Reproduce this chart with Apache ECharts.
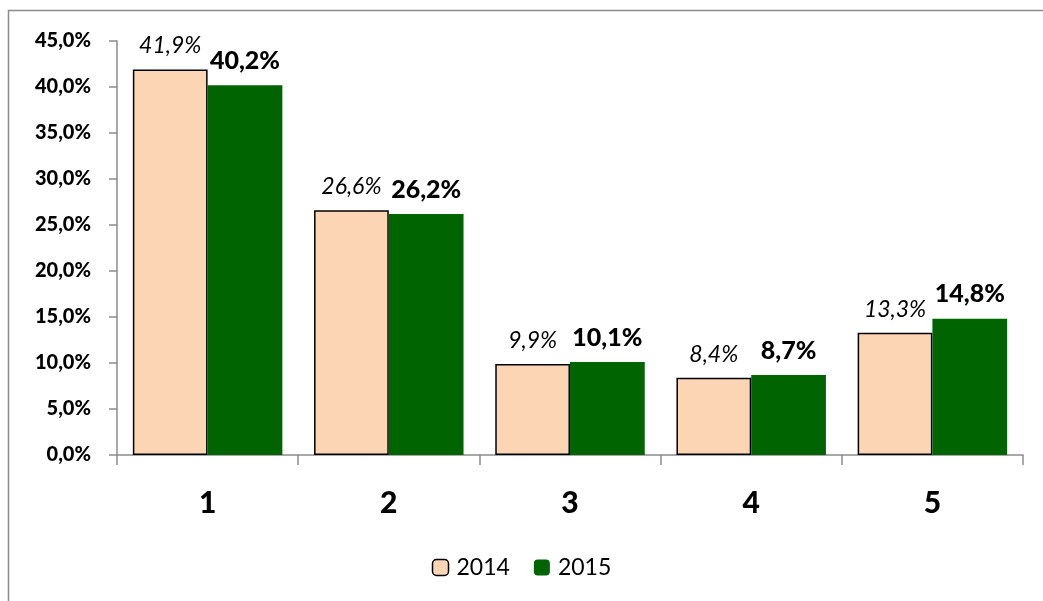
<!DOCTYPE html>
<html><head><meta charset="utf-8">
<script src="https://cdn.jsdelivr.net/npm/echarts@6/dist/echarts.min.js"></script>
<style>html,body{margin:0;padding:0;background:#fff}#c{width:1043px;height:601px}</style>
</head><body><div id="c"></div>
<script>
const categories = ['1','2','3','4','5'];
const values2014 = [41.9, 26.6, 9.9, 8.4, 13.3];
const values2015 = [40.2, 26.2, 10.1, 8.7, 14.8];
const seriesNames = ['2014','2015'];
const FONT = 'Lato, "Open Sans", sans-serif';
const fmt = v => v.toFixed(1).replace('.', ',') + '%';
const chart = echarts.init(document.getElementById('c'));
chart.setOption({
  animation: false,
  graphic: [{type:'rect', shape:{x:8.5,y:10.5,width:1100,height:700}, style:{fill:'none', stroke:'#8c8c8c', lineWidth:1.5}, silent:true, z:-1}],
  grid: {left:117, right:20, top:41, bottom:146},
  legend: {bottom: 17, left: 'center', itemWidth: 16, itemHeight: 16, itemGap: 24,
    textStyle:{fontFamily:FONT, fontSize:23, color:'#000', padding:[0,0,0,3]},
    data:[{name:'2014', itemStyle:{color:'#fcd5b5', borderColor:'#000', borderWidth:1.5}}, {name:'2015', itemStyle:{color:'#006400'}}]},
  xAxis: {type:'category', data:categories,
    axisLine:{lineStyle:{color:'#8c8c8c', width:1.5}},
    axisTick:{show:true, length:10, lineStyle:{color:'#8c8c8c', width:1.5}},
    axisLabel:{fontFamily:FONT, fontSize:30, fontWeight:900, color:'#000', margin:33}},
  yAxis: {type:'value', min:0, max:45, interval:5,
    axisLine:{show:true, lineStyle:{color:'#8c8c8c', width:1.5}},
    axisTick:{show:true, length:8, lineStyle:{color:'#8c8c8c', width:1.5}},
    splitLine:{show:false},
    axisLabel:{fontFamily:FONT, fontSize:20, fontWeight:900, color:'#000', margin:26, formatter: fmt}},
  series: [
    {name:seriesNames[0], type:'bar', data:values2014, barGap:'0%', barCategoryGap:'17.5%',
     itemStyle:{color:'#fcd5b5', borderColor:'#000', borderWidth:1.5},
     label:{show:true, position:'top', distance:12, fontFamily:FONT, fontSize:23, fontStyle:'italic', color:'#000', formatter: p => fmt(p.value)}},
    {name:seriesNames[1], type:'bar', data:values2015,
     itemStyle:{color:'#006400'},
     label:{show:true, position:'top', distance:12, fontFamily:FONT, fontSize:25, fontWeight:900, color:'#000', formatter: p => fmt(p.value)}}
  ]
});
</script></body></html>
